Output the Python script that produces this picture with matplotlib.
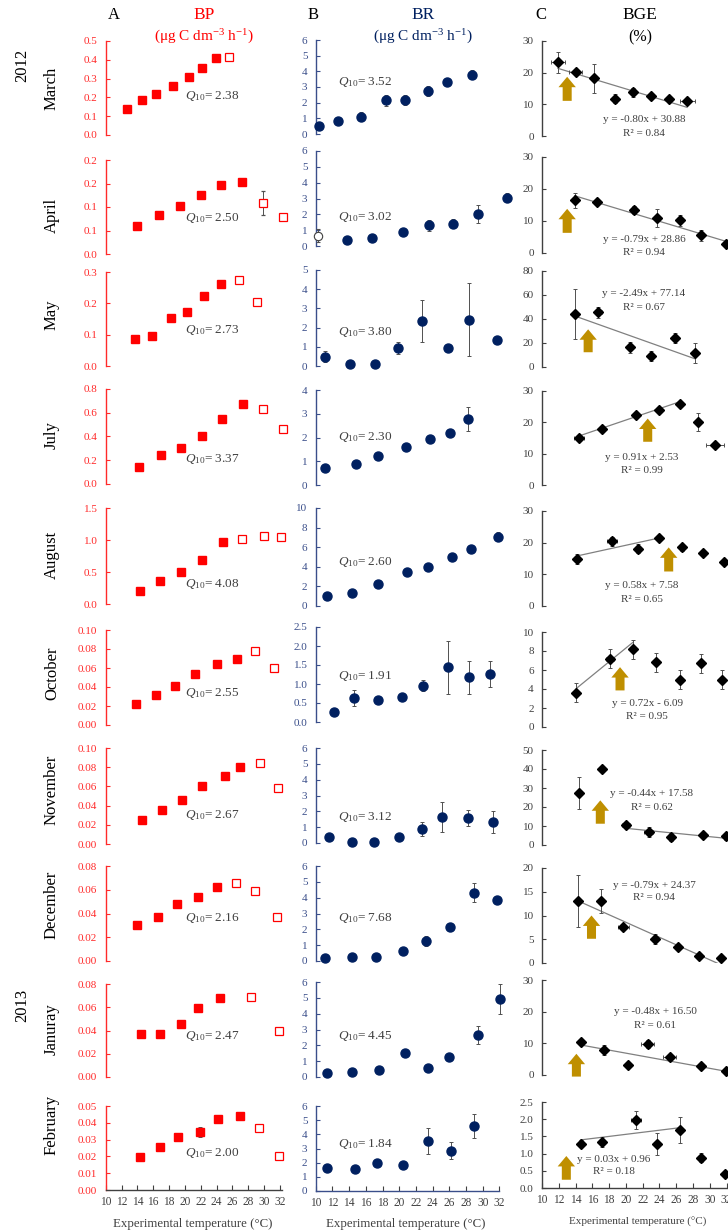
import numpy as np
import matplotlib
matplotlib.use("Agg")
import matplotlib.pyplot as plt
from matplotlib.ticker import FixedLocator, FuncFormatter
from decimal import Decimal, ROUND_HALF_UP

plt.rcParams['font.family'] = ['Liberation Serif', 'DejaVu Serif']
plt.rcParams['mathtext.fontset'] = 'custom'
plt.rcParams['mathtext.rm'] = 'Liberation Serif'
plt.rcParams['mathtext.it'] = 'Liberation Serif:italic'

# ---------------------------------------------------------------- data
months = ["March", "April", "May", "July", "August", "October",
          "November", "December", "Januray", "February"]
years = ["2012", "2013"]

# Bacterial production (filled: used for Q10, open: excluded)
bp_temp = [[12.7, 14.6, 16.4, 18.5, 20.5, 22.2, 23.9],
           [14.0, 16.7, 19.4, 22.0, 24.6, 27.2],
           [13.7, 15.9, 18.2, 20.3, 22.4, 24.6],
           [14.2, 17.0, 19.5, 22.1, 24.7, 27.3],
           [14.3, 16.9, 19.5, 22.2, 24.8],
           [13.8, 16.3, 18.8, 21.3, 24.0, 26.6],
           [14.6, 17.1, 19.6, 22.1, 25.1, 26.9],
           [14.0, 16.6, 19.0, 21.6, 24.0],
           [14.5, 16.9, 19.5, 21.7, 24.4],
           [14.3, 16.8, 19.1, 21.9, 24.2, 26.9]]
bp_val = [[0.136, 0.186, 0.219, 0.261, 0.310, 0.356, 0.407],
          [0.060, 0.082, 0.102, 0.126, 0.147, 0.154],
          [0.087, 0.097, 0.152, 0.172, 0.222, 0.262],
          [0.143, 0.246, 0.299, 0.408, 0.551, 0.670],
          [0.20, 0.364, 0.50, 0.68, 0.97],
          [0.022, 0.032, 0.041, 0.054, 0.064, 0.070],
          [0.025, 0.035, 0.046, 0.060, 0.071, 0.080],
          [0.030, 0.037, 0.048, 0.054, 0.062],
          [0.037, 0.037, 0.046, 0.059, 0.068],
          [0.0197, 0.0253, 0.0317, 0.0343, 0.0425, 0.0443]]
bp_err = [[0.003, 0.003, 0.003, 0.003, 0.003, 0.003, 0.003],
          [0.002, 0.002, 0.002, 0.002, 0.002, 0.002],
          [0.003, 0.003, 0.003, 0.003, 0.003, 0.003],
          [0.01, 0.01, 0.01, 0.01, 0.01, 0.01],
          [0.01, 0.01, 0.01, 0.05, 0.01],
          [0.0005, 0.0005, 0.0005, 0.0005, 0.0005, 0.0005],
          [0.0005, 0.0005, 0.0005, 0.0005, 0.0005, 0.0005],
          [0.0005, 0.0005, 0.0005, 0.002, 0.0005],
          [0.002, 0.0005, 0.0005, 0.0005, 0.0005],
          [0.0003, 0.001, 0.0003, 0.003, 0.0003, 0.0003]]
bp_open_temp = [[25.6], [29.8, 32.4], [26.8, 29.1], [29.8, 32.4],
                [27.2, 30.0, 32.1], [28.9, 31.2], [29.5, 31.8],
                [26.4, 28.9, 31.6], [28.3, 31.9], [29.3, 31.9]]
bp_open_val = [[0.417], [0.109, 0.079], [0.276, 0.205], [0.629, 0.464],
               [1.02, 1.07, 1.04], [0.078, 0.060], [0.084, 0.058],
               [0.066, 0.059, 0.037], [0.069, 0.040], [0.0367, 0.0203]]
bp_open_err = [[0.005], [0.025, 0.004], [0.005, 0.004], [0.01, 0.012],
               [0.04, 0.04, 0.04], [0.0015, 0.0015], [0.003, 0.002],
               [0.0015, 0.001, 0.001], [0.002, 0.002], [0.001, 0.0015]]

# Bacterial respiration
br_temp = [[10.4, 12.7, 15.4, 18.4, 20.7, 23.4, 25.7, 28.7],
           [13.8, 16.7, 20.5, 23.6, 26.5, 29.4, 32.9],
           [11.1, 14.1, 17.1, 19.9, 22.7, 25.8, 28.3, 31.7],
           [11.1, 14.8, 17.5, 20.8, 23.7, 26.1, 28.2],
           [11.4, 14.3, 17.5, 20.9, 23.4, 26.3, 28.6, 31.8],
           [12.2, 14.6, 17.5, 20.3, 22.8, 25.8, 28.4, 30.9],
           [11.6, 14.3, 17.0, 20.0, 22.7, 25.1, 28.2, 31.2],
           [11.1, 14.3, 17.2, 20.5, 23.2, 26.1, 29.0, 31.7],
           [11.4, 14.3, 17.6, 20.7, 23.4, 26.0, 29.4, 32.1],
           [11.4, 14.7, 17.4, 20.5, 23.4, 26.2, 28.9]]
br_val = [[0.52, 0.80, 1.10, 2.14, 2.17, 2.75, 3.35, 3.79],
          [0.35, 0.48, 0.88, 1.30, 1.42, 2.02, 3.05],
          [0.49, 0.10, 0.12, 0.94, 2.34, 0.92, 2.40, 1.37],
          [0.72, 0.90, 1.24, 1.58, 1.95, 2.17, 2.79],
          [1.02, 1.30, 2.21, 3.47, 4.00, 4.98, 5.86, 7.05],
          [0.27, 0.63, 0.58, 0.66, 0.96, 1.44, 1.18, 1.26],
          [0.36, 0.06, 0.04, 0.40, 0.88, 1.66, 1.59, 1.32],
          [0.19, 0.24, 0.27, 0.64, 1.27, 2.13, 4.30, 3.87],
          [0.26, 0.34, 0.47, 1.51, 0.57, 1.26, 2.66, 4.91],
          [1.65, 1.58, 2.01, 1.87, 3.55, 2.85, 4.56]]
br_err = [[0.05, 0.08, 0.30, 0.35, 0.30, 0.30, 0.10, 0.30],
          [0.05, 0.05, 0.10, 0.35, 0.30, 0.55, 0.30],
          [0.30, 0.03, 0.05, 0.30, 1.08, 0.10, 1.90, 0.05],
          [0.05, 0.05, 0.08, 0.08, 0.08, 0.10, 0.50],
          [0.10, 0.10, 0.20, 0.10, 0.10, 0.10, 0.10, 0.45],
          [0.03, 0.22, 0.06, 0.04, 0.15, 0.70, 0.43, 0.34],
          [0.05, 0.03, 0.03, 0.05, 0.45, 0.95, 0.50, 0.70],
          [0.03, 0.03, 0.03, 0.05, 0.30, 0.25, 0.60, 0.10],
          [0.05, 0.05, 0.05, 0.10, 0.05, 0.10, 0.55, 0.95],
          [0.10, 0.10, 0.10, 0.10, 0.93, 0.60, 0.85]]
br_open_temp = [[], [10.3], [], [], [], [], [], [], [], []]
br_open_val = [[], [0.65], [], [], [], [], [], [], [], []]
br_open_err = [[], [0.40], [], [], [], [], [], [], [], []]

# Bacterial growth efficiency (%)
bge_temp = [[11.9, 14.0, 16.2, 18.7, 20.9, 23.0, 25.1, 27.3],
            [13.9, 16.6, 21.0, 23.7, 26.4, 29.0, 31.9],
            [13.9, 16.7, 20.5, 23.0, 25.8, 28.2],
            [14.4, 17.1, 21.2, 23.9, 26.4, 28.6, 30.6],
            [14.2, 18.3, 21.4, 24.0, 26.7, 29.2, 31.7],
            [14.1, 18.1, 20.8, 23.6, 26.4, 28.9, 31.4],
            [14.4, 17.2, 20.0, 22.7, 25.4, 29.2, 31.9],
            [14.3, 17.0, 19.7, 23.5, 26.2, 28.7, 31.3],
            [14.6, 17.4, 20.2, 22.6, 25.2, 28.9, 31.9],
            [14.6, 17.2, 21.2, 23.7, 26.4, 29.0, 31.8]]
bge_val = [[23.3, 20.2, 18.2, 11.8, 13.8, 12.6, 11.8, 10.9],
           [16.5, 15.8, 13.4, 10.9, 10.2, 5.6, 2.8],
           [44.0, 45.5, 16.3, 9.2, 24.0, 11.4],
           [15.1, 17.9, 22.4, 24.0, 25.8, 20.1, 12.8],
           [14.9, 20.4, 18.1, 21.4, 18.5, 16.8, 14.0],
           [3.6, 7.2, 8.2, 6.8, 5.0, 6.7, 5.0],
           [27.3, 40.2, 10.6, 6.9, 4.3, 5.5, 4.5],
           [13.1, 13.1, 7.6, 5.1, 3.3, 1.5, 1.1],
           [10.5, 7.9, 3.3, 9.8, 5.6, 2.8, 1.2],
           [1.29, 1.34, 1.98, 1.29, 1.68, 0.88, 0.40]]
bge_yerr = [[3.3, 0.8, 4.5, 1.4, 1.5, 1.0, 0.6, 0.5],
            [2.4, 0.7, 1.3, 2.9, 1.8, 1.7, 0.5],
            [20.8, 4.5, 4.5, 4.0, 4.0, 8.3],
            [0.6, 0.7, 0.5, 0.8, 0.4, 2.8, 0.3],
            [1.6, 1.5, 1.4, 0.8, 1.2, 0.7, 0.7],
            [1.0, 1.0, 1.0, 1.0, 1.0, 1.0, 1.0],
            [8.4, 0.5, 1.5, 2.5, 2.0, 1.0, 2.0],
            [5.5, 2.5, 0.3, 1.0, 0.4, 0.3, 0.3],
            [0.5, 1.7, 0.6, 1.4, 0.6, 0.4, 0.3],
            [0.10, 0.15, 0.27, 0.32, 0.37, 0.13, 0.05]]
bge_xerr = [[0.8, 0.8, 0.1, 0.1, 0.1, 0.1, 0.1, 0.9],
            [0.2, 0.2, 0.2, 0.2, 0.2, 0.2, 0.2],
            [0.2, 0.4, 0.2, 0.2, 0.2, 0.2],
            [0.6, 0.3, 0.2, 0.2, 0.2, 0.2, 1.1],
            [0.2, 0.6, 0.2, 0.2, 0.2, 0.2, 0.2],
            [0.2, 0.5, 0.2, 0.2, 0.2, 0.2, 0.2],
            [0.2, 0.2, 0.5, 0.5, 0.2, 0.2, 0.2],
            [0.2, 0.2, 0.7, 0.2, 0.2, 0.2, 0.2],
            [0.3, 0.2, 0.2, 0.8, 0.8, 0.2, 0.2],
            [0.2, 0.2, 0.6, 0.2, 0.2, 0.2, 0.2]]

# Linear fits of BGE vs temperature and the points they span
fit_slope = [-0.80, -0.79, -2.49, 0.91, 0.58, 0.72, -0.44, -0.79, -0.48, 0.03]
fit_icpt = [30.88, 28.86, 77.14, 2.53, 7.58, -6.09, 17.58, 24.37, 16.50, 0.96]
fit_r2 = [0.84, 0.94, 0.67, 0.99, 0.65, 0.95, 0.62, 0.94, 0.61, 0.18]
fit_first = [0, 0, 0, 0, 0, 0, 2, 0, 0, 0]
fit_last = [7, 6, 5, 4, 3, 2, 6, 6, 6, 4]

q10_bp = [2.38, 2.50, 2.73, 3.37, 4.08, 2.55, 2.67, 2.16, 2.47, 2.00]
q10_br = [3.52, 3.02, 3.80, 2.30, 2.60, 1.91, 3.12, 7.68, 4.45, 1.84]

# In situ temperature marker (arrow) in the BGE panels
insitu_temp = [13.0, 13.0, 15.5, 22.6, 25.1, 19.3, 16.95, 15.9, 14.1, 12.9]
arrow_y0 = [11.1, 6.3, 12.3, 13.8, 10.9, 3.85, 11.2, 5.1, -0.5, 0.24]
arrow_y1 = [18.7, 13.8, 31.4, 21.2, 18.5, 6.3, 23.5, 10.0, 6.7, 0.93]

# y-axis scales: (max, step, decimals)
bp_ymax = [0.5, 0.2, 0.3, 0.8, 1.5, 0.10, 0.10, 0.08, 0.08, 0.05]
bp_ystep = [0.1, 0.05, 0.1, 0.2, 0.5, 0.02, 0.02, 0.02, 0.02, 0.01]
bp_ydec = [1, 1, 1, 1, 1, 2, 2, 2, 2, 2]
br_ymax = [6, 6, 5, 4, 10, 2.5, 6, 6, 6, 6]
br_ystep = [1, 1, 1, 1, 2, 0.5, 1, 1, 1, 1]
br_ydec = [0, 0, 0, 0, 0, 1, 0, 0, 0, 0]
bge_ymax = [30, 30, 80, 30, 30, 10, 50, 20, 30, 2.5]
bge_ystep = [10, 10, 20, 10, 10, 2, 10, 5, 10, 0.5]
bge_ydec = [0, 0, 0, 0, 0, 0, 0, 0, 0, 1]
x_ticks = list(range(10, 33, 2))

# ---------------------------------------------------------------- layout (pixels)
W, H = 728, 1232
fig = plt.figure(figsize=(W / 100, H / 100), dpi=100)

col_left = [105.7, 315.7, 542.0]
col_ppu = [7.92, 8.35, 8.39]
col_xmax = [33.0, 33.5, 34.0]
col_spine_end = [32.3, 32.0, 34.0]
panel_px = [[(41, 135), (40, 134), (41, 136)],
            [(160, 254), (151, 246), (157, 253)],
            [(272, 366), (270, 366), (271, 367)],
            [(389, 484), (390, 485), (391, 485)],
            [(508, 604), (508, 606), (511, 606)],
            [(630, 725), (627, 722), (632, 727)],
            [(748, 844), (748, 843), (750, 845)],
            [(866, 961), (866, 961), (868, 963)],
            [(984, 1077), (982, 1077), (980, 1075)],
            [(1106, 1190), (1106, 1191), (1102, 1188)]]

RED = '#FF0000'
RED_AX = '#FF2A2A'
NAVY = '#002060'
NAVY_AX = '#3A4E8A'
DARK = '#404040'
GOLD = '#BF8F00'
ERRC = '#505050'
col_axis_color = [RED_AX, NAVY_AX, DARK]

month_y = [88, 215, 315, 435, 555, 673, 790, 905, 1029, 1125]
q10_bp_y = [96, 218, 330, 459, 584, 693, 815, 918, 1036, 1153]
q10_br_y = [82, 217, 332, 437, 562, 676, 817, 918, 1036, 1144]
eq_xy = [(644, 120), (644, 240), (644, 294), (642, 457), (642, 586),
         (647, 704), (652, 794), (654, 885), (655, 1012), (614, 1159)]


def fx(x):
    return x / W


def fy(y):
    return 1 - y / H


def excel_fmt(dec):
    q = Decimal(1).scaleb(-dec)

    def f(v, pos):
        return str(Decimal(str(round(float(v), 6))).quantize(q, rounding=ROUND_HALF_UP))
    return FuncFormatter(f)


def make_axes(row, col, ymax, ystep, ydec):
    top, bot = panel_px[row][col]
    left = col_left[col]
    width = (col_xmax[col] - 10) * col_ppu[col]
    ax = fig.add_axes([fx(left), fy(bot), width / W, (bot - top) / H])
    ax.set_xlim(10, col_xmax[col])
    ax.set_ylim(0, ymax)
    ax.patch.set_alpha(0)
    c = col_axis_color[col]
    for s in ('top', 'right'):
        ax.spines[s].set_visible(False)
    ax.spines['left'].set_color(c)
    ax.spines['left'].set_linewidth(1.0)
    ax.yaxis.set_major_locator(FixedLocator(np.arange(0, ymax + ystep / 2, ystep)))
    ax.yaxis.set_major_formatter(excel_fmt(ydec))
    ax.tick_params(axis='y', direction='in', length=3, width=0.8, color=c,
                   labelcolor=c, labelsize=8, pad=6)
    if row == len(months) - 1:
        ax.spines['bottom'].set_color(c if col == 1 else DARK)
        ax.spines['bottom'].set_linewidth(1.0)
        ax.spines['bottom'].set_bounds(10, col_spine_end[col])
        ax.xaxis.set_major_locator(FixedLocator(x_ticks))
        ax.tick_params(axis='x', direction='in', length=3.5, width=0.8,
                       color=DARK, labelcolor=DARK, labelsize=8.3, pad=4.5)
    else:
        ax.spines['bottom'].set_visible(False)
        ax.set_xticks([])
    return ax


eb_kw = dict(linestyle='none', ecolor=ERRC, elinewidth=0.7, capsize=1.5,
             capthick=0.7, clip_on=False)

for r in range(len(months)):
    # ---- A: bacterial production
    ax = make_axes(r, 0, bp_ymax[r], bp_ystep[r], bp_ydec[r])
    ax.errorbar(bp_temp[r], bp_val[r], yerr=bp_err[r], marker='s', ms=6.2,
                mfc=RED, mec=RED, zorder=3, **eb_kw)
    ax.errorbar(bp_open_temp[r], bp_open_val[r], yerr=bp_open_err[r], marker='s',
                ms=6.2, mfc='white', mec=RED, mew=0.9, zorder=3, **eb_kw)
    fig.text(fx(185), fy(q10_bp_y[r]), r'$Q_{\mathit{10}}$' + f'= {q10_bp[r]:.2f}',
             ha='left', va='center', fontsize=9.5, color=DARK)

    # ---- B: bacterial respiration
    ax = make_axes(r, 1, br_ymax[r], br_ystep[r], br_ydec[r])
    ax.errorbar(br_temp[r], br_val[r], yerr=br_err[r], marker='o', ms=6.5,
                mfc=NAVY, mec=NAVY, zorder=3, **eb_kw)
    if br_open_temp[r]:
        ax.errorbar(br_open_temp[r], br_open_val[r], yerr=br_open_err[r],
                    marker='o', ms=6, mfc='white', mec=DARK, mew=0.8,
                    zorder=3, **eb_kw)
    fig.text(fx(338), fy(q10_br_y[r]), r'$Q_{\mathit{10}}$' + f'= {q10_br[r]:.2f}',
             ha='left', va='center', fontsize=9.5, color=DARK)

    # ---- C: bacterial growth efficiency
    ax = make_axes(r, 2, bge_ymax[r], bge_ystep[r], bge_ydec[r])
    i0, i1 = fit_first[r], fit_last[r]
    xf = np.array([bge_temp[r][i0], bge_temp[r][i1]])
    ax.plot(xf, fit_slope[r] * xf + fit_icpt[r], color='#808080', lw=0.9, zorder=2)
    ax.errorbar(bge_temp[r], bge_val[r], yerr=bge_yerr[r], xerr=bge_xerr[r],
                marker='D', ms=4.6, mfc='black', mec='black', zorder=3, **eb_kw)
    ax.annotate('', xy=(insitu_temp[r], arrow_y1[r]), xytext=(insitu_temp[r], arrow_y0[r]),
                arrowprops=dict(arrowstyle='simple,head_length=0.75,head_width=1.25,tail_width=0.65',
                                mutation_scale=10, fc=GOLD, ec='none',
                                shrinkA=0, shrinkB=0),
                annotation_clip=False, zorder=4)
    sign = '+' if fit_icpt[r] >= 0 else '-'
    ex, ey = eq_xy[r]
    fig.text(fx(ex), fy(ey), f'y = {fit_slope[r]:.2f}x {sign} {abs(fit_icpt[r]):.2f}',
             ha='center', va='center', fontsize=8, color=DARK)
    fig.text(fx(ex), fy(ey + 13), f'R\u00b2 = {fit_r2[r]:.2f}',
             ha='center', va='center', fontsize=8, color=DARK)

    # row label
    fig.text(fx(52), fy(month_y[r]), months[r], rotation=90, ha='center',
             va='center', fontsize=12, color='black')

fig.text(fx(22), fy(65), years[0], rotation=90, ha='center', va='center', fontsize=12)
fig.text(fx(22), fy(1005), years[1], rotation=90, ha='center', va='center', fontsize=12)

# column headers
fig.text(fx(114), fy(15), 'A', ha='center', va='center', fontsize=12)
fig.text(fx(204), fy(15), 'BP', ha='center', va='center', fontsize=12.5, color=RED)
fig.text(fx(204), fy(37), r'(μg C dm$^{-3}$ h$^{-1}$)', ha='center', va='center',
         fontsize=11, color=RED)
fig.text(fx(313), fy(15), 'B', ha='center', va='center', fontsize=12)
fig.text(fx(423), fy(15), 'BR', ha='center', va='center', fontsize=12.5, color=NAVY)
fig.text(fx(423), fy(37), r'(μg C dm$^{-3}$ h$^{-1}$)', ha='center', va='center',
         fontsize=11, color=NAVY)
fig.text(fx(541), fy(15), 'C', ha='center', va='center', fontsize=12)
fig.text(fx(640), fy(15), 'BGE', ha='center', va='center', fontsize=12.5)
fig.text(fx(640), fy(37), '(%)', ha='center', va='center', fontsize=11.5)

# x-axis titles
fig.text(fx(193), fy(1224), 'Experimental temperature (°C)', ha='center',
         va='center', fontsize=9.3, color=DARK)
fig.text(fx(406), fy(1224), 'Experimental temperature (°C)', ha='center',
         va='center', fontsize=9.3, color=DARK)
fig.text(fx(638), fy(1222), 'Experimental temperature (°C)', ha='center',
         va='center', fontsize=8, color=DARK)

fig.savefig('out.png', dpi=100)
